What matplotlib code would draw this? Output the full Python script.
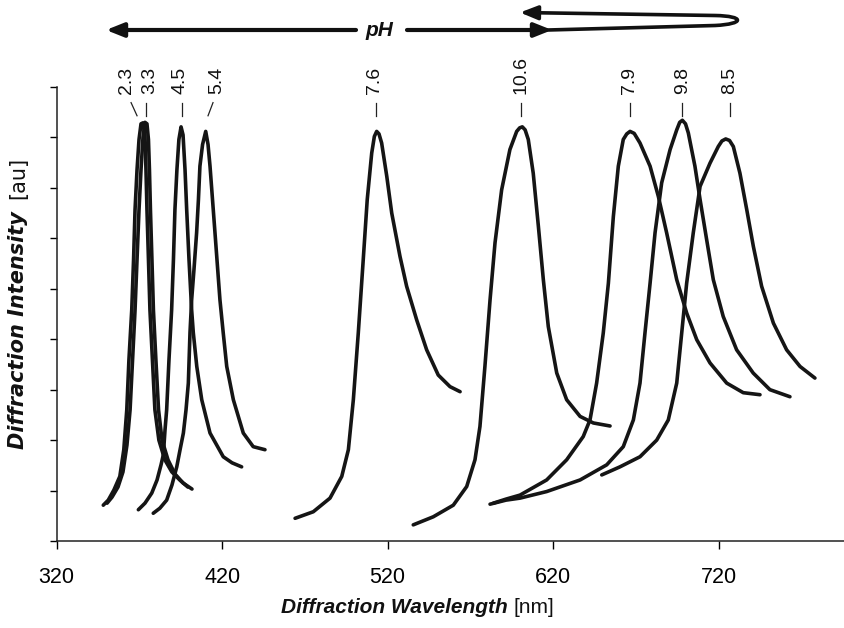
import numpy as np
import matplotlib
matplotlib.use('Agg')
import matplotlib.pyplot as plt
from matplotlib.path import Path
from matplotlib.patches import FancyArrowPatch

plt.rcParams['font.family'] = ['Liberation Sans', 'DejaVu Sans']

# pH of each spectrum, in the order the curves are listed below
ph_labels = ['2.3', '3.3', '4.5', '5.4', '7.6', '10.6', '7.9', '9.8', '8.5']

# spectra: wavelength [nm], intensity [au]
wl_23 = [348.2, 351.2, 354.6, 358.2, 360.6, 362.4, 363.7, 365.4, 366.5, 367.4, 368.6, 369.8, 371.0,
         372.2, 373.4, 374.0, 374.6, 375.5, 376.4, 377.9, 379.4, 381.8, 385.4, 389.6, 394.4, 399.3]
int_23 = [0.71, 0.81, 1.01, 1.28, 1.81, 2.60, 3.59, 4.58, 5.58, 6.57, 7.36, 7.96, 8.27,
          8.29, 8.05, 7.36, 6.57, 5.58, 4.58, 3.59, 2.60, 2.00, 1.61, 1.37, 1.21, 1.07]

wl_33 = [350.5, 353.5, 357.1, 360.1, 362.5, 364.4, 365.9, 367.4, 368.6, 369.8, 371.0, 372.2, 373.4,
         374.6, 375.5, 376.1, 376.7, 377.6, 378.5, 380.0, 381.6, 383.7, 387.3, 391.5, 396.4, 401.8]
int_33 = [0.75, 0.87, 1.07, 1.37, 1.90, 2.60, 3.59, 4.58, 5.58, 6.57, 7.36, 8.00, 8.30,
          8.27, 7.96, 7.36, 6.57, 5.58, 4.58, 3.59, 2.60, 2.00, 1.61, 1.33, 1.15, 1.03]

wl_45 = [369.4, 373.4, 377.5, 380.7, 383.1, 384.5, 385.5, 386.5, 387.9, 389.5, 390.6, 391.5, 392.7, 393.9,
         395.2, 396.4, 397.6, 398.6, 400.0, 401.6, 402.6, 404.7, 407.7, 412.7, 420.7, 426.0, 431.8]
int_45 = [0.62, 0.75, 0.95, 1.21, 1.51, 1.71, 2.20, 2.60, 3.59, 4.58, 5.58, 6.57, 7.36, 7.96,
          8.21, 8.05, 7.36, 6.57, 5.58, 4.58, 4.13, 3.46, 2.80, 2.14, 1.67, 1.55, 1.47]

wl_54 = [378.4, 382.4, 386.5, 389.7, 392.6, 394.6, 396.6, 398.2, 399.6, 400.6, 401.6, 403.0, 404.6, 405.7,
         406.6, 408.2, 410.1, 411.5, 412.7, 414.2, 415.7, 418.7, 420.7, 422.8, 426.8, 432.8, 438.8, 445.9]
int_54 = [0.55, 0.65, 0.81, 1.11, 1.47, 1.81, 2.14, 2.60, 3.13, 4.13, 4.78, 5.38, 6.11, 6.77,
          7.43, 7.86, 8.12, 7.86, 7.43, 6.77, 6.11, 4.78, 4.12, 3.46, 2.80, 2.14, 1.87, 1.81]

wl_76 = [464.1, 475.1, 485.2, 492.3, 496.3, 499.3, 502.3, 505.0, 507.7, 510.4, 512.0, 513.4,
         514.8, 516.4, 519.5, 522.5, 527.5, 531.5, 537.6, 543.6, 550.6, 557.7, 563.8]
int_76 = [0.45, 0.58, 0.85, 1.28, 1.81, 2.80, 4.13, 5.44, 6.77, 7.69, 8.02, 8.12,
          8.07, 7.89, 7.23, 6.50, 5.64, 5.05, 4.38, 3.79, 3.29, 3.06, 2.96]

wl_106 = [535.5, 547.6, 559.7, 567.8, 572.8, 575.8, 578.8, 581.9, 584.9, 588.9, 593.9, 598.0, 599.8,
          601.4, 603.1, 605.0, 608.0, 611.1, 614.1, 617.1, 622.2, 628.2, 636.3, 644.3, 654.4]
int_106 = [0.32, 0.48, 0.71, 1.08, 1.61, 2.27, 3.46, 4.78, 5.91, 6.96, 7.76, 8.12, 8.19,
           8.21, 8.15, 7.96, 7.29, 6.24, 5.18, 4.25, 3.33, 2.80, 2.47, 2.34, 2.28]

wl_79 = [583.9, 591.5, 600.0, 616.1, 628.2, 638.2, 642.3, 646.3, 650.3, 653.4, 656.4, 659.4, 662.4, 664.5,
         666.5, 669.0, 672.5, 678.6, 683.6, 688.6, 694.7, 700.7, 706.8, 714.8, 724.9, 734.9, 745.0]
int_79 = [0.75, 0.83, 0.91, 1.21, 1.61, 2.07, 2.40, 3.13, 4.12, 5.11, 6.43, 7.43, 7.96, 8.07,
          8.12, 8.08, 7.89, 7.43, 6.83, 6.11, 5.18, 4.52, 3.99, 3.53, 3.13, 2.94, 2.90]

wl_98 = [581.9, 591.5, 600.0, 616.1, 636.3, 652.4, 662.4, 668.5, 672.5, 675.5, 678.6, 681.6, 685.6,
         690.7, 694.7, 696.5, 698.1, 700.0, 701.7, 705.7, 708.8, 712.8, 716.8, 722.8, 730.9, 740.9,
         751.0, 763.1]
int_98 = [0.73, 0.81, 0.85, 0.98, 1.21, 1.51, 1.87, 2.40, 3.13, 4.12, 5.11, 6.11, 7.10,
          7.76, 8.15, 8.30, 8.34, 8.27, 8.09, 7.43, 6.77, 5.97, 5.18, 4.45, 3.79, 3.33,
          3.00, 2.86]

wl_85 = [649.4, 660.4, 672.5, 682.6, 689.6, 694.7, 697.7, 700.7, 704.7, 708.8, 714.8, 719.8, 722.0,
         724.3, 726.6, 728.9, 732.9, 737.0, 741.0, 746.0, 753.1, 761.1, 769.2, 778.2]
int_85 = [1.31, 1.47, 1.67, 2.00, 2.40, 3.13, 4.12, 5.11, 6.11, 7.03, 7.49, 7.82, 7.93,
          7.97, 7.94, 7.82, 7.29, 6.57, 5.84, 5.05, 4.32, 3.79, 3.46, 3.23]

spectra = [(wl_23, int_23), (wl_33, int_33), (wl_45, int_45), (wl_54, int_54), (wl_76, int_76),
           (wl_106, int_106), (wl_79, int_79), (wl_98, int_98), (wl_85, int_85)]

x_ticks = [320, 420, 520, 620, 720]

# label placement relative to each peak (nm): text, leader top, leader bottom
label_dx = {'2.3': (-9.7, -7.2, -3.6), '3.3': (3.0, 0.6, 0.6), '4.5': (-0.6, 0.6, 0.6),
            '5.4': (6.8, 4.4, 1.4), '7.6': (-1.6, -0.4, -0.4), '10.6': (-0.8, -0.8, -0.8),
            '7.9': (-0.6, 0.0, 0.0), '9.8': (0.0, 0.0, 0.0), '8.5': (2.6, 2.6, 2.6)}

W, H = 845, 628
fig = plt.figure(figsize=(W / 100, H / 100), dpi=100)
ax = fig.add_axes([56.6 / W, 87 / H, (W - 56.6) / W, 454 / H])

for (wl, inten), ph in zip(spectra, ph_labels):
    ax.plot(wl, inten, color='#151515', lw=2.6, solid_capstyle='round', solid_joinstyle='round')
    i = int(np.argmax(inten))
    dx_t, dx_a, dx_b = label_dx[ph]
    ax.plot([wl[i] + dx_b, wl[i] + dx_a], [8.43, 8.69], color='#222', lw=0.9, clip_on=False)
    ax.text(wl[i] + dx_t, 8.86, ph, rotation=90, ha='center', va='bottom',
            fontsize=14, color='#111', clip_on=False)

ax.set_xlim(320, 320 + (W - 56.6) / 1.655)
ax.set_ylim(0, 9)
ax.set_xticks(x_ticks)
ax.set_yticks(np.arange(0, 10, 1))
ax.set_yticklabels([])
ax.tick_params(axis='x', direction='out', length=5.5, width=1, pad=13, labelsize=15.5)
ax.tick_params(axis='y', direction='out', length=5, width=1)
ax.spines['top'].set_visible(False)
ax.spines['right'].set_visible(False)
for s in ('left', 'bottom'):
    ax.spines[s].set_color('#222')
    ax.spines[s].set_linewidth(1.1)

# overlay in pixel units for axis titles and the pH arrows
ov = fig.add_axes([0, 0, 1, 1], zorder=5)
ov.set_xlim(0, W)
ov.set_ylim(H, 0)
ov.axis('off')
ov.patch.set_alpha(0)

ov.text(508, 613, 'Diffraction Wavelength', ha='right', va='baseline', fontsize=15,
        fontweight='bold', style='italic', color='#111')
ov.text(514, 613, '[nm]', ha='left', va='baseline', fontsize=15, color='#111')
ov.text(18, 449, 'Diffraction Intensity', rotation=90, ha='center', va='bottom', fontsize=15,
        fontweight='bold', style='italic', family='DejaVu Sans', color='#111')
ov.text(18, 199, '[au]', rotation=90, ha='center', va='bottom', fontsize=15,
        family='DejaVu Sans', color='#111')

head = '-|>,head_length=0.95,head_width=0.38'
ov.add_patch(FancyArrowPatch((356, 30), (106, 30), arrowstyle=head, mutation_scale=11,
                             lw=3.0, color='#111', shrinkA=0, shrinkB=0))
ov.text(379, 30, 'pH', ha='center', va='center', fontsize=15, style='italic',
        fontweight='bold', color='#111')
ov.add_patch(FancyArrowPatch((407, 30), (552, 30), arrowstyle=head, mutation_scale=11,
                             lw=3.0, color='#111', shrinkA=0, shrinkB=0))
loop = Path([(548, 30), (715, 25.5), (745, 24), (745, 16), (715, 15.5), (520, 12.5)],
            [Path.MOVETO, Path.LINETO, Path.CURVE4, Path.CURVE4, Path.CURVE4, Path.LINETO])
ov.add_patch(FancyArrowPatch(path=loop, arrowstyle=head, mutation_scale=11,
                             lw=2.6, color='#111'))

fig.savefig('out.png', dpi=100, facecolor='white')
